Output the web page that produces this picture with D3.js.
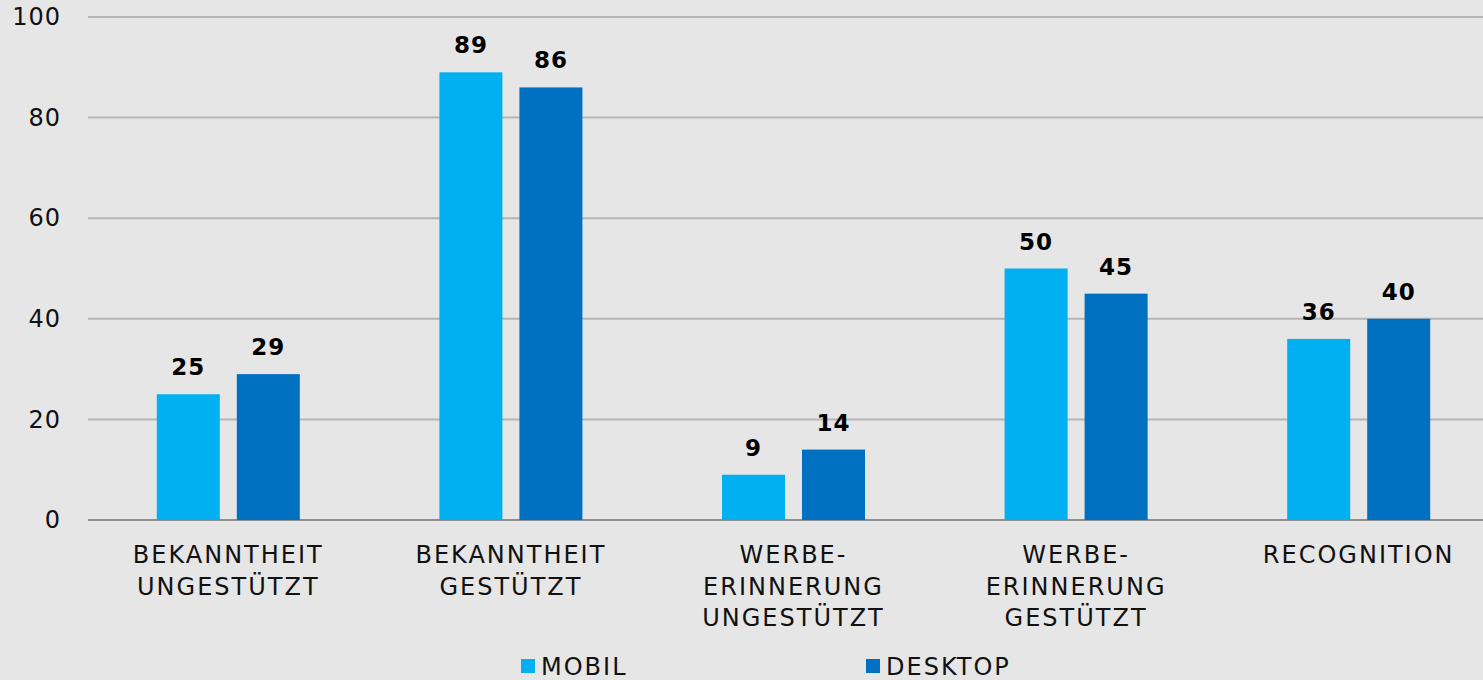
<!DOCTYPE html>
<html>
<head>
<meta charset="utf-8">
<script src="https://cdn.jsdelivr.net/npm/d3@7"></script>
<style>
  body { margin: 0; background: #e6e6e6; }
  svg { display: block; font-family: "DejaVu Sans", sans-serif; }
</style>
</head>
<body>
<div id="container"></div>
<script>
/* DATA */
const categories = [
  ["BEKANNTHEIT", "UNGESTÜTZT"],
  ["BEKANNTHEIT", "GESTÜTZT"],
  ["WERBE-", "ERINNERUNG", "UNGESTÜTZT"],
  ["WERBE-", "ERINNERUNG", "GESTÜTZT"],
  ["RECOGNITION"]
]
const mobil = [25, 89, 9, 50, 36]
const desktop = [29, 86, 14, 45, 40]
const seriesNames = ["MOBIL", "DESKTOP"]
const seriesColors = ["#00b0f0", "#0070c0"]
const yTicks = [0, 20, 40, 60, 80, 100]

/* CONSTANTS */
const width = 1483,
  height = 680,
  margin = { top: 17, bottom: 160, left: 87, right: -17 }

const svg = d3.select("#container")
  .append("svg")
  .attr("width", width)
  .attr("height", height)

svg.append("rect")
  .attr("width", width)
  .attr("height", height)
  .attr("fill", "#e6e6e6")

// SCALES
const xScale = d3.scaleBand()
  .domain(d3.range(categories.length))
  .range([margin.left, width - margin.right])

// two bars of 63px with a 17px gap
const inner = d3.scaleBand()
  .domain([0, 1])
  .range([-71.5, 71.5])
  .paddingInner(0.2125)

const yScale = d3.scaleLinear()
  .domain([0, 100])
  .range([height - margin.bottom, margin.top])

// GRID
svg.append("g")
  .selectAll("line")
  .data(yTicks)
  .join("line")
  .attr("x1", 88)
  .attr("x2", width)
  .attr("y1", d => yScale(d))
  .attr("y2", d => yScale(d))
  .attr("stroke", d => d === 0 ? "#8f8f8f" : "#b5b5b5")
  .attr("stroke-width", 2)

// Y AXIS LABELS
const yAxis = d3.axisLeft(yScale)
  .tickValues(yTicks)
  .tickSize(0)
  .tickPadding(0)

svg.append("g")
  .attr("transform", `translate(61, 0)`)
  .call(yAxis)
  .call(g => g.select(".domain").remove())
  .selectAll("text")
  .attr("font-family", "DejaVu Sans, sans-serif")
  .attr("font-size", 24)
  .attr("letter-spacing", 1)
  .attr("fill", "#111")

// BARS
const rows = categories.map((c, i) => ({ i, values: [mobil[i], desktop[i]] }))

const groups = svg.append("g")
  .selectAll("g")
  .data(rows)
  .join("g")
  .attr("transform", d => `translate(${xScale(d.i) + xScale.bandwidth() / 2}, 0)`)

groups.selectAll("rect")
  .data(d => d.values)
  .join("rect")
  .attr("x", (d, j) => inner(j))
  .attr("width", inner.bandwidth())
  .attr("y", d => yScale(d))
  .attr("height", d => yScale(0) - yScale(d))
  .attr("fill", (d, j) => seriesColors[j])

groups.selectAll("text.val")
  .data(d => d.values)
  .join("text")
  .attr("class", "val")
  .attr("x", (d, j) => inner(j) + inner.bandwidth() / 2)
  .attr("y", d => yScale(d) - 19)
  .attr("text-anchor", "middle")
  .attr("font-size", 23)
  .attr("font-weight", "bold")
  .attr("letter-spacing", 1)
  .attr("fill", "#000")
  .text(d => d)

// CATEGORY LABELS
svg.append("g")
  .selectAll("text")
  .data(categories)
  .join("text")
  .attr("x", (d, i) => xScale(i) + xScale.bandwidth() / 2)
  .attr("y", 563)
  .attr("text-anchor", "middle")
  .attr("font-size", 24)
  .attr("letter-spacing", 2)
  .attr("fill", "#111")
  .selectAll("tspan")
  .data(d => d)
  .join("tspan")
  .attr("x", function () { return d3.select(this.parentNode).attr("x") })
  .attr("dy", (d, k) => k === 0 ? 0 : 31.5)
  .text(d => d)

// LEGEND
const legendX = [521, 866]
const legend = svg.append("g")
  .selectAll("g")
  .data(seriesNames)
  .join("g")
  .attr("transform", (d, i) => `translate(${legendX[i]}, 659)`)

legend.append("rect")
  .attr("width", 14)
  .attr("height", 14)
  .attr("fill", (d, i) => seriesColors[i])

legend.append("text")
  .attr("x", 20)
  .attr("y", 16)
  .attr("font-size", 24)
  .attr("letter-spacing", 2)
  .attr("fill", "#111")
  .text(d => d)
</script>
</body>
</html>
